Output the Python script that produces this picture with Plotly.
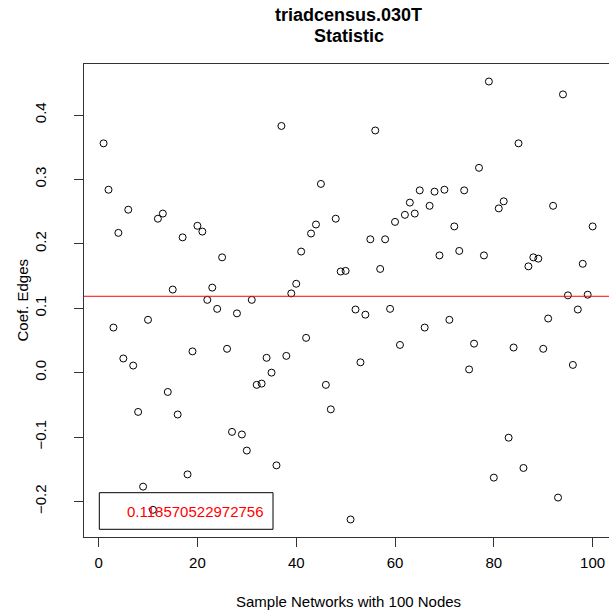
import plotly.graph_objects as go

# Estimated coefficient for each of the 100 sampled networks
network_index = list(range(1, 101))
coef_edges = [
    0.356, 0.284, 0.070, 0.217, 0.022, 0.253, 0.011, -0.061, -0.177, 0.082,
    -0.213, 0.239, 0.247, -0.030, 0.129, -0.065, 0.210, -0.158, 0.033, 0.228,
    0.219, 0.113, 0.132, 0.099, 0.179, 0.037, -0.092, 0.092, -0.096, -0.121,
    0.113, -0.019, -0.017, 0.023, 0.000, -0.144, 0.383, 0.026, 0.123, 0.138,
    0.188, 0.054, 0.216, 0.230, 0.293, -0.019, -0.057, 0.239, 0.157, 0.158,
    -0.228, 0.098, 0.016, 0.090, 0.207, 0.376, 0.161, 0.207, 0.099, 0.234,
    0.043, 0.245, 0.264, 0.247, 0.283, 0.070, 0.259, 0.281, 0.182, 0.284,
    0.082, 0.227, 0.189, 0.283, 0.005, 0.045, 0.318, 0.182, 0.452, -0.163,
    0.255, 0.266, -0.101, 0.039, 0.356, -0.148, 0.165, 0.179, 0.177, 0.037,
    0.084, 0.259, -0.194, 0.432, 0.120, 0.012, 0.098, 0.169, 0.121, 0.227,
]
mean_value = 0.118570522972756
mean_label = "0.118570522972756"

x_ticks = [0, 20, 40, 60, 80, 100]
y_ticks = [-0.2, -0.1, 0.0, 0.1, 0.2, 0.3, 0.4]
y_tick_text = ["\u22120.2", "\u22120.1", "0.0", "0.1", "0.2", "0.3", "0.4"]

FONT = "Liberation Sans, Arial, Helvetica, sans-serif"
W, H = 609, 614
L, R, T, B = 84, 0, 64, 77
pw, ph = W - L - R, H - T - B


def px_x(px):
    return (px - L) / pw


def px_y(py):
    return (H - B - py) / ph


# axis ranges padded 4% beyond the data, as in base graphics
ymin, ymax = min(coef_edges), max(coef_edges)
ypad = 0.04 * (ymax - ymin)
y_range = [ymin - ypad, ymax + ypad]
x_lo = 1 - 0.04 * 99
x_scale = (593.3 - 99.3) / 100.0
x_range = [x_lo, x_lo + pw / x_scale]

fig = go.Figure()
fig.add_trace(go.Scatter(
    x=network_index, y=coef_edges, mode="markers",
    marker=dict(symbol="circle-open", size=7, color="black",
                line=dict(width=1, color="black")),
    hoverinfo="x+y", showlegend=False,
))

shapes = [
    # mean reference line
    dict(type="line", xref="paper", yref="y", x0=0, x1=1,
         y0=mean_value, y1=mean_value, line=dict(color="red", width=1)),
    # legend box
    dict(type="rect", xref="paper", yref="paper",
         x0=px_x(99.3), x1=px_x(273), y0=px_y(529.3), y1=px_y(492.7),
         line=dict(color="black", width=1), fillcolor="rgba(0,0,0,0)"),
]

annotations = [
    dict(text="<b>triadcensus.030T</b>", xref="paper", yref="paper",
         x=px_x(348.5), y=px_y(15), showarrow=False,
         font=dict(family=FONT, size=18, color="black"),
         xanchor="center", yanchor="middle"),
    dict(text="<b>Statistic</b>", xref="paper", yref="paper",
         x=px_x(348.5), y=px_y(36), showarrow=False,
         font=dict(family=FONT, size=18, color="black"),
         xanchor="center", yanchor="middle"),
    dict(text="Sample Networks with 100 Nodes", xref="paper", yref="paper",
         x=px_x(348.5), y=px_y(601), showarrow=False,
         font=dict(family=FONT, size=15, color="black"),
         xanchor="center", yanchor="middle"),
    dict(text="Coef. Edges", xref="paper", yref="paper",
         x=px_x(22), y=px_y(300.5), showarrow=False, textangle=-90,
         font=dict(family=FONT, size=15, color="black"),
         xanchor="center", yanchor="middle"),
    dict(text=mean_label, xref="paper", yref="paper",
         x=px_x(125), y=px_y(511), showarrow=False,
         font=dict(family=FONT, size=15, color="red"),
         xanchor="left", yanchor="middle"),
]

fig.update_layout(
    width=W, height=H,
    margin=dict(l=L, r=R, t=T, b=B, pad=0),
    paper_bgcolor="white", plot_bgcolor="white",
    font=dict(family=FONT, size=15, color="black"),
    shapes=shapes, annotations=annotations,
    xaxis=dict(
        range=x_range, tickmode="array", tickvals=x_ticks,
        ticks="outside", ticklen=9, tickcolor="#333", tickwidth=1,
        showline=True, linecolor="#333", linewidth=1, mirror=True,
        showgrid=False, zeroline=False, ticklabelstandoff=3,
        tickfont=dict(family=FONT, size=15, color="black"),
    ),
    yaxis=dict(
        range=y_range, tickmode="array", tickvals=y_ticks, ticktext=y_tick_text,
        ticks="outside", ticklen=9, tickcolor="#333", tickwidth=1,
        tickangle=-90,
        showline=True, linecolor="#333", linewidth=1, mirror=False,
        showgrid=False, zeroline=False, ticklabelstandoff=22,
        tickfont=dict(family=FONT, size=15, color="black"),
    ),
)

fig.write_html("out.html")
